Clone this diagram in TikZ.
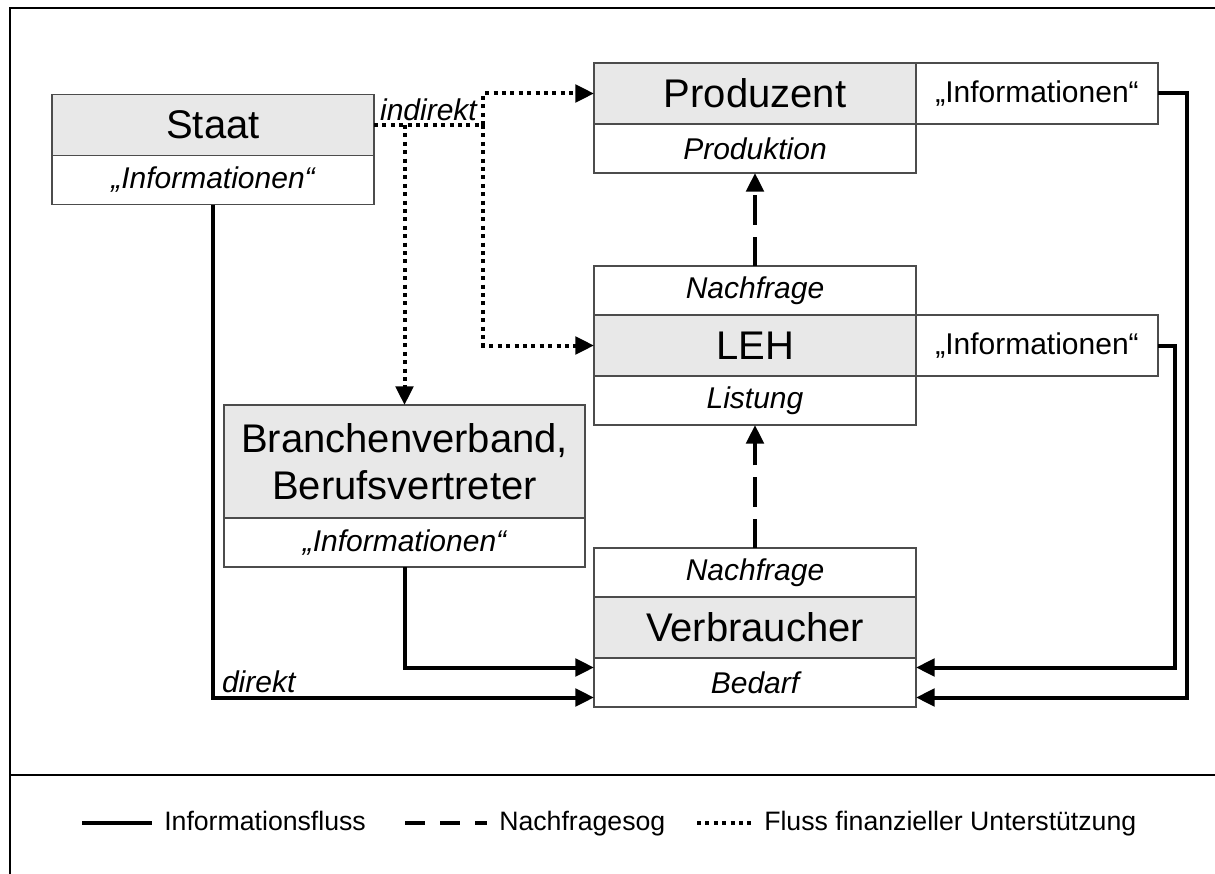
\documentclass[tikz,border=0pt]{standalone}
\usepackage{fontspec}
\setmainfont{Liberation Sans}
\usetikzlibrary{arrows.meta, positioning, calc}

\begin{document}
\begin{tikzpicture}[x=0.75pt, y=-0.75pt, >={Triangle[length=14pt, width=13pt]},
      head/.style={draw=black!70, line width=1.1pt, fill=black!9,
                   minimum width=241.5pt, minimum height=45.75pt,
                   inner sep=0pt, outer sep=0pt, align=center,
                   font=\fontsize{30}{35}\selectfont},
      sub/.style={draw=black!70, line width=1.1pt, fill=white,
                  minimum width=241.5pt, minimum height=36.75pt,
                  inner sep=0pt, outer sep=0pt,
                  font=\fontsize{22.5}{26}\selectfont\itshape},
      side/.style={sub, minimum width=181.5pt, minimum height=45.75pt,
                   font=\fontsize{22.5}{26}\selectfont},
      info/.style={->, line width=3pt},
      pull/.style={->, line width=3pt, dash pattern=on 22pt off 9pt},
      fin/.style={->, line width=3pt, dash pattern=on 3pt off 3.3pt},
      lbl/.style={font=\fontsize{22.5}{26}\selectfont\itshape, inner sep=2pt},
      leg/.style={font=\fontsize{20}{24}\selectfont, inner xsep=9pt,
                  inner ysep=0pt, text height=14.5pt, text depth=4pt,
                  anchor=west}]

    \useasboundingbox (0,0) rectangle (1215,874);

    % frame and legend rule
    \draw[line width=1.5pt] (10,874) -- (10,8) -- (1215,8);
    \draw[line width=1.5pt] (10,775) -- (1215,775);

    % Staat top left, Branchenverband below it
    \node[head] (staat) at (213,125) {Staat};
    \node[sub, below=0pt of staat] (staatinfo) {„Informationen“};

    \node[head, minimum width=270.75pt, minimum height=84.75pt] (branch)
        at (404.5,461.5) {Branchenverband,\\Berufsvertreter};
    \node[sub, minimum width=270.75pt, below=0pt of branch] (branchinfo)
        {„Informationen“};

    % the chain on the right: Produzent -- LEH -- Verbraucher
    \node[head] (prod) at (755,93.5) {Produzent};
    \node[sub, below=0pt of prod] (prodsub) {Produktion};
    \node[side, right=0pt of prod] (prodinfo) {„Informationen“};

    \node[head] (leh) at (755,345.5) {LEH};
    \node[sub, above=0pt of leh] (lehdem) {Nachfrage};
    \node[sub, below=0pt of leh] (lehlist) {Listung};
    \node[side, right=0pt of leh] (lehinfo) {„Informationen“};

    \node[head] (verb) at (755,627.5) {Verbraucher};
    \node[sub, above=0pt of verb] (verbdem) {Nachfrage};
    \node[sub, below=0pt of verb] (verbneed) {Bedarf};

    % information flow into Bedarf
    \draw[info] (staatinfo.south) |- ($(verbneed.west)+(0,15)$)
        node[lbl, above, pos=0.56] (direkt) {direkt};
    \draw[info] (branchinfo.south) |- ($(verbneed.west)+(0,-15)$);
    \draw[info] (prodinfo.east) -- ++(29,0) |- ($(verbneed.east)+(0,15)$);
    \draw[info] (lehinfo.east) -- ++(17,0) |- ($(verbneed.east)+(0,-15)$);

    % demand pull upwards
    \draw[pull] (lehdem.north) -- (prodsub.south);
    \draw[pull] (verbdem.north) -- (lehlist.south);

    % financial support from Staat
    \coordinate (split) at (483,125);
    \draw[fin, -] (staat.east) -- node[lbl, above] (indirekt) {indirekt} (split);
    \draw[fin] (split) |- (prod.west);
    \draw[fin] (split) |- (leh.west);
    \draw[fin] (staat.east -| branch.north) -- (branch.north);

    % legend
    \coordinate (legsolid) at (82,823);
    \node[leg] (legsolidtxt) at (152,823) {Informationsfluss};
    \draw[line width=3.5pt] (legsolid) -- (legsolidtxt.west);

    \coordinate (legdash) at (405,823);
    \node[leg] (legdashtxt) at (487,823) {Nachfragesog};
    \draw[line width=3.5pt, dash pattern=on 15pt off 11.25pt] (legdash) -- (legdashtxt.west);

    \coordinate (legdot) at (697,823);
    \node[leg] (legdottxt) at (752,823) {Fluss finanzieller Unterstützung};
    \draw[line width=3.5pt, dash pattern=on 3pt off 3.3pt] (legdot) -- (legdottxt.west);

\end{tikzpicture}
\end{document}
